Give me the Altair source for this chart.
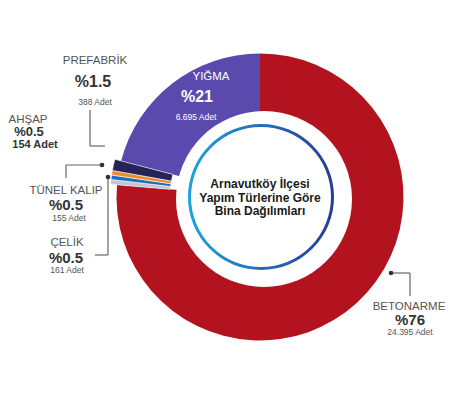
import math
import altair as alt
import pandas as pd

# ---- data ----
categories = ["BETONARME", "ÇELİK", "TÜNEL KALIP", "AHŞAP", "PREFABRİK", "YIĞMA"]
counts = [24395, 161, 155, 154, 388, 6695]
percent_labels = ["%76", "%0.5", "%0.5", "%0.5", "%1.5", "%21"]
count_labels = ["24.395 Adet", "161 Adet", "155 Adet", "154 Adet", "388 Adet", "6.695 Adet"]
colors = ["#b3121f", "#c3c6cf", "#1f6dbf", "#f08a24", "#26225a", "#5a4aae"]
small = ["ÇELİK", "TÜNEL KALIP", "AHŞAP", "PREFABRİK"]
title_lines = ["Arnavutköy İlçesi", "Yapım Türlerine Göre", "Bina Dağılımları"]

df = pd.DataFrame({"cat": categories, "count": counts, "idx": list(range(len(categories)))})
one = pd.DataFrame({"v": [1]})

M = 8  # page margin


def p(v):
    return v - M


FONT = "Liberation Sans"
CX, CY = p(257), p(197)

is_small = alt.FieldOneOfPredicate(field="cat", oneOf=small)

base = alt.Chart(df).encode(
    theta=alt.Theta("count:Q", stack=True),
    order=alt.Order("idx:Q"),
    color=alt.Color("cat:N", scale=alt.Scale(domain=categories, range=colors), legend=None),
    x=alt.value(CX),
    y=alt.value(CY),
)

donut_big = base.mark_arc(radius=143.5, radius2=70).encode(
    opacity=alt.condition(is_small, alt.value(0), alt.value(1))
)
donut_small = base.mark_arc(radius=150, radius2=90, stroke="white", strokeWidth=0.6).encode(
    opacity=alt.condition(is_small, alt.value(1), alt.value(0))
)

white_circle = alt.Chart(one).mark_arc(
    radius=88, radius2=0, theta=0, theta2=2 * math.pi, color="white"
).encode(x=alt.value(p(261)), y=alt.value(p(199)))

ring = alt.Chart(one).mark_arc(
    radius=73, radius2=70, theta=0, theta2=2 * math.pi,
    fill=alt.LinearGradient(
        gradient="linear", x1=0, y1=0, x2=1, y2=0,
        stops=[alt.GradientStop(color="#1ca3dc", offset=0), alt.GradientStop(color="#2a3a92", offset=1)],
    ),
).encode(x=alt.value(p(258)), y=alt.value(p(197)))


def txt(s, x, y, size, color="#555555", bold=False, align="center"):
    return alt.Chart(one).mark_text(
        text=s, font=FONT, fontSize=size, fontWeight="bold" if bold else "normal",
        color=color, align=align, baseline="middle",
    ).encode(x=alt.value(p(x)), y=alt.value(p(y)))


def rule(x1, y1, x2, y2):
    return alt.Chart(one).mark_rule(color="#666666", strokeWidth=1.2).encode(
        x=alt.value(p(x1)), y=alt.value(p(y1)), x2=alt.value(p(x2)), y2=alt.value(p(y2))
    )


def dot(x, y):
    return alt.Chart(one).mark_point(filled=True, size=22, color="#333333", opacity=1).encode(
        x=alt.value(p(x)), y=alt.value(p(y))
    )


layers = [donut_big, donut_small, white_circle, ring]

# center title
for i, line in enumerate(title_lines):
    layers.append(txt(line, 257, 184 + i * 13.5, 12, color="#1a1a1a", bold=True))

# YIĞMA (inside slice)
layers += [
    txt(categories[5], 208, 77, 11.5, color="white"),
    txt(percent_labels[5], 194, 97, 16, color="white", bold=True),
    txt(count_labels[5], 193, 117, 8.5, color="white"),
]

# PREFABRİK
layers += [
    txt(categories[4], 92, 61, 11.5),
    txt(percent_labels[4], 90, 82, 16, color="#333333", bold=True),
    txt(count_labels[4], 92, 102, 8.5),
    rule(87, 110, 87, 146),
    rule(87, 146, 102, 146),
]

# AHŞAP
layers += [
    txt(categories[3], 25, 120, 11.5),
    txt(percent_labels[3], 26, 132, 13, color="#333333", bold=True),
    txt(count_labels[3], 32, 145, 11, color="#333333", bold=True),
]

# TÜNEL KALIP
layers += [
    txt(categories[2], 63, 191, 11.5),
    txt(percent_labels[2], 63, 205, 15, color="#333333", bold=True),
    txt(count_labels[2], 66, 218, 8.5),
    rule(63, 178, 63, 165),
    rule(63, 165, 99, 165),
    dot(99, 165),
]

# ÇELİK
layers += [
    txt(categories[1], 64, 243, 11.5),
    txt(percent_labels[1], 63, 258, 15, color="#333333", bold=True),
    txt(count_labels[1], 64, 270, 8.5),
    rule(92, 255, 105, 255),
    rule(105, 255, 105, 177),
    dot(105, 177),
]

# BETONARME
layers += [
    txt(categories[0], 406, 307, 11.5),
    txt(percent_labels[0], 407, 320, 15, color="#333333", bold=True),
    txt(count_labels[0], 407, 332, 8.5),
    rule(388, 273, 407, 273),
    rule(407, 273, 407, 296),
    dot(388, 273),
]

chart = alt.layer(*layers).properties(
    width=458, height=380, padding=0, background="white",
    autosize=alt.AutoSizeParams(type="fit", contains="padding"),
).configure_view(stroke=None)

chart.save("out.html", embed_options={"renderer": "svg", "actions": False})
